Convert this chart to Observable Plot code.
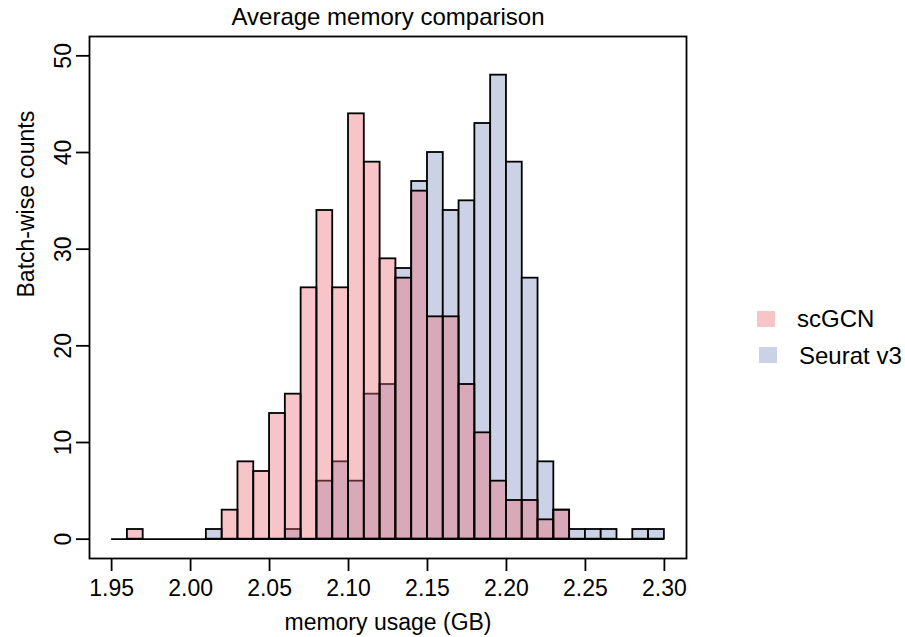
<!DOCTYPE html>
<html>
<head>
<meta charset="utf-8">
<script src="https://cdn.jsdelivr.net/npm/d3@7"></script>
<script src="https://cdn.jsdelivr.net/npm/@observablehq/plot@0.6"></script>
<style>
  body { margin: 0; background: #fff; }
  #wrap { position: relative; width: 905px; height: 637px; font-family: "Liberation Sans", Arial, sans-serif; color: #000; }
  .sw { position: absolute; width: 18px; height: 16px; }
  .lt { position: absolute; font-size: 24px; line-height: 24px; white-space: nowrap; }
</style>
</head>
<body>
<div id="wrap"></div>
<script>
// Histogram bin edges (width 0.01 GB)
const edges = [1.95,1.96,1.97,1.98,1.99,2.00,2.01,2.02,2.03,2.04,2.05,2.06,2.07,2.08,2.09,2.10,2.11,2.12,2.13,2.14,2.15,2.16,2.17,2.18,2.19,2.20,2.21,2.22,2.23,2.24,2.25,2.26,2.27,2.28,2.29,2.30];
// Counts per bin
const scGCN  = [0,1,0,0,0,0,0,3,8,7,13,15,26,34,26,44,39,29,27,36,23,23,16,11,6,4,4,2,3,0,0,0,0,0,0];
const seurat = [0,0,0,0,0,0,1,0,0,0,0,1,0,6,8,6,15,16,28,37,40,34,35,43,48,39,27,8,3,1,1,1,0,1,1];
const seriesNames = ["scGCN", "Seurat v3"];
const seriesColors = ["#f7c4c8", "#cbd2e5"];
const xTicks = [1.95, 2.00, 2.05, 2.10, 2.15, 2.20, 2.25, 2.30];
const yTicks = [0, 10, 20, 30, 40, 50];

const rows = counts => counts.map((c, i) => ({x1: edges[i], x2: edges[i + 1], y0: 0, y: c})).filter(d => d.y > 0);
const base = [{y: 0, x1: edges[0], x2: edges[edges.length - 1]}];
const SW = 1.8;

const chart = Plot.plot({
  width: 905,
  height: 637,
  marginLeft: 89,
  marginRight: 219,
  marginTop: 36,
  marginBottom: 79,
  style: {fontFamily: "Liberation Sans, Arial, sans-serif", fontSize: "23px", color: "black", background: "white"},
  x: {domain: [1.936, 2.314]},
  y: {domain: [-2, 52]},
  marks: [
    Plot.ruleY(base, {y: "y", x1: "x1", x2: "x2", stroke: "black", strokeWidth: SW}),
    Plot.rect(rows(seurat), {x1: "x1", x2: "x2", y1: "y0", y2: "y", fill: "#cbd2e5", stroke: "black", strokeWidth: SW}),
    Plot.rect(rows(scGCN), {x1: "x1", x2: "x2", y1: "y0", y2: "y", fill: "#eb6b75", fillOpacity: 0.4, stroke: "black", strokeWidth: SW}),
    Plot.frame({stroke: "black", strokeWidth: SW}),
    Plot.axisX(xTicks, {tickSize: 13, tickPadding: 8, tickFormat: d3.format(".2f"), strokeWidth: SW, fontSize: 23, label: null}),
    Plot.axisY(yTicks, {tickSize: 13, tickPadding: 6, tickRotate: -90, strokeWidth: SW, fontSize: 23, label: null}),
    Plot.text(["Average memory comparison"], {frameAnchor: "top", lineAnchor: "middle", dy: -19, fontSize: 24}),
    Plot.text(["memory usage (GB)"], {frameAnchor: "bottom", lineAnchor: "middle", dy: 64, fontSize: 23}),
    Plot.text(["Batch-wise counts"], {frameAnchor: "left", lineAnchor: "middle", dx: -63, rotate: -90, fontSize: 23})
  ]
});
const wrap = document.getElementById("wrap");
wrap.appendChild(chart);

// Legend
const legendPos = [{sx: 757, sy: 311, tx: 797, ty: 307}, {sx: 759, sy: 347, tx: 799, ty: 344}];
seriesNames.forEach((name, i) => {
  const sw = document.createElement("div");
  sw.className = "sw";
  sw.style.left = legendPos[i].sx + "px";
  sw.style.top = legendPos[i].sy + "px";
  sw.style.background = seriesColors[i];
  wrap.appendChild(sw);
  const t = document.createElement("div");
  t.className = "lt";
  t.style.left = legendPos[i].tx + "px";
  t.style.top = legendPos[i].ty + "px";
  t.textContent = name;
  wrap.appendChild(t);
});
</script>
</body>
</html>
